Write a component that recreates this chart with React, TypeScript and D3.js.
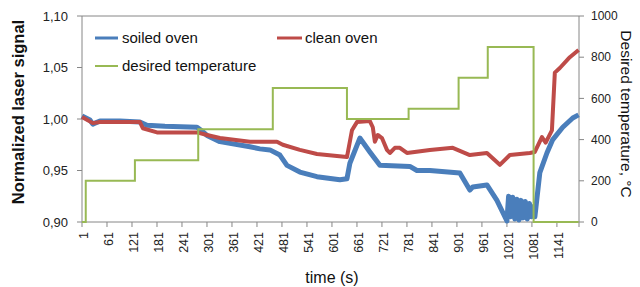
import React from 'react';
import * as d3 from 'd3';

// time (s) -> normalized laser signal
const soiledOven: [number, number][] = [
  [1, 1.003], [20, 0.999], [27, 0.995], [44, 0.998], [92, 0.998], [140, 0.997],
  [157, 0.994], [200, 0.993], [277, 0.992], [290, 0.988], [301, 0.984], [332, 0.978],
  [404, 0.973], [428, 0.971], [452, 0.970], [476, 0.965], [493, 0.955], [524, 0.9485],
  [565, 0.944], [620, 0.941], [637, 0.942], [644, 0.957], [668, 0.9815], [692, 0.968],
  [716, 0.955], [788, 0.954], [805, 0.950], [836, 0.950], [908, 0.9476], [932, 0.931],
  [939, 0.934], [973, 0.936], [997, 0.921], [1021, 0.901],
  [1025, 0.925], [1030, 0.905], [1035, 0.924], [1040, 0.903], [1045, 0.922],
  [1050, 0.902], [1055, 0.921], [1060, 0.904], [1065, 0.920], [1070, 0.903],
  [1075, 0.918], [1080, 0.905], [1085, 0.915], [1088, 0.905],
  [1100, 0.948], [1117, 0.967], [1131, 0.980], [1155, 0.992], [1179, 1.001], [1193, 1.004],
];

const cleanOven: [number, number][] = [
  [1, 1.002], [27, 0.996], [44, 0.997], [140, 0.997], [147, 0.991], [181, 0.987],
  [277, 0.987], [301, 0.9845], [332, 0.9815], [404, 0.978], [469, 0.978], [483, 0.975],
  [524, 0.970], [565, 0.966], [637, 0.963], [649, 0.989], [661, 0.997], [692, 0.998],
  [699, 0.992], [704, 0.978], [711, 0.9845], [721, 0.9815], [733, 0.970], [740, 0.967],
  [752, 0.972], [764, 0.972], [781, 0.967], [836, 0.970], [891, 0.972], [932, 0.965],
  [973, 0.967], [1004, 0.9555], [1028, 0.965], [1076, 0.967], [1088, 0.968],
  [1105, 0.9825], [1114, 0.977], [1129, 0.989], [1136, 1.045], [1148, 1.0495],
  [1172, 1.060], [1193, 1.067],
];

// time (s) -> desired temperature (step changes)
const desiredTemp: [number, number][] = [
  [1, 0], [10, 200], [128, 300], [280, 450], [459, 650], [637, 500],
  [785, 550], [905, 700], [975, 850], [1085, 0], [1193, 0],
];

const xTicks = d3.range(1, 1142, 60);
const leftTicks = [0.9, 0.95, 1.0, 1.05, 1.1];
const rightTicks = [0, 200, 400, 600, 800, 1000];

const W = 640, H = 287;
const M = { left: 82, right: 579, top: 16, bottom: 222 };
const FONT = "'Liberation Sans', Arial, sans-serif";
const AXIS = '#868686';
const BLUE = '#4A7EBB', RED = '#BE4B48', GREEN = '#98B954';

export default function App() {
  const x = d3.scaleLinear().domain([1, 1194]).range([M.left, M.right]);
  const y = d3.scaleLinear().domain([0.9, 1.1]).range([M.bottom, M.top]);
  const y2 = d3.scaleLinear().domain([0, 1000]).range([M.bottom, M.top]);

  const sig = d3.line<[number, number]>().x(d => x(d[0])).y(d => y(d[1]));
  const temp = d3.line<[number, number]>().x(d => x(d[0])).y(d => y2(d[1])).curve(d3.curveStepAfter);
  const fmt = (v: number) => d3.format('.2f')(v).replace('.', ',');

  return (
    <svg width={W} height={H} style={{ position: 'absolute', left: 0, top: 0 }} fontFamily={FONT}>
      <rect x={0} y={0} width={W} height={H} fill="#fff" />
      {/* plot frame */}
      <line x1={M.left} x2={M.right} y1={M.top} y2={M.top} stroke={AXIS} />
      <line x1={M.left} x2={M.left} y1={M.top} y2={M.bottom} stroke={AXIS} />
      <line x1={M.right} x2={M.right} y1={M.top} y2={M.bottom} stroke={AXIS} />
      <line x1={M.left} x2={M.right} y1={M.bottom} y2={M.bottom} stroke={AXIS} />

      {leftTicks.map(t => (
        <g key={'l' + t}>
          <line x1={M.left - 5} x2={M.left} y1={y(t)} y2={y(t)} stroke={AXIS} />
          <text x={68} y={y(t)} dy="0.35em" textAnchor="end" fontSize={13} fill="#222">{fmt(t)}</text>
        </g>
      ))}
      {rightTicks.map(t => (
        <g key={'r' + t}>
          <line x1={M.right} x2={M.right + 5} y1={y2(t)} y2={y2(t)} stroke={AXIS} />
          <text x={591} y={y2(t)} dy="0.35em" fontSize={12} fill="#222">{t}</text>
        </g>
      ))}
      {xTicks.map(t => (
        <g key={'x' + t}>
          <line x1={x(t)} x2={x(t)} y1={M.bottom} y2={M.bottom + 5} stroke={AXIS} />
          <text transform={`translate(${x(t) + 2},232) rotate(-90)`} dy="0.35em" textAnchor="end" fontSize={12.5} fill="#222">{t}</text>
        </g>
      ))}
      <line x1={M.right} x2={M.right} y1={M.bottom} y2={M.bottom + 5} stroke={AXIS} />

      <path d={sig(soiledOven) ?? ''} fill="none" stroke={BLUE} strokeWidth={5} strokeLinejoin="round" />
      <path d={sig(cleanOven) ?? ''} fill="none" stroke={RED} strokeWidth={4} strokeLinejoin="round" />
      <path d={temp(desiredTemp) ?? ''} fill="none" stroke={GREEN} strokeWidth={2} />

      {/* legend */}
      <line x1={95} x2={118} y1={38} y2={38} stroke={BLUE} strokeWidth={3} />
      <text x={122} y={38} dy="0.35em" fontSize={15} fill="#111">soiled oven</text>
      <line x1={277} x2={302} y1={38} y2={38} stroke={RED} strokeWidth={3} />
      <text x={305} y={38} dy="0.35em" fontSize={15} fill="#111">clean oven</text>
      <line x1={95} x2={118} y1={66} y2={66} stroke={GREEN} strokeWidth={2} />
      <text x={122} y={66} dy="0.35em" fontSize={15} fill="#111">desired temperature</text>

      {/* axis titles */}
      <text transform="translate(18,112) rotate(-90)" dy="0.35em" textAnchor="middle" fontSize={16.5} fontWeight="bold" fill="#111">Normalized laser signal</text>
      <text transform="translate(626,114) rotate(90)" dy="0.35em" textAnchor="middle" fontSize={15.5} fill="#111">Desired temperature, °C</text>
      <text x={332} y={283} textAnchor="middle" fontSize={16} fill="#111">time (s)</text>
    </svg>
  );
}
